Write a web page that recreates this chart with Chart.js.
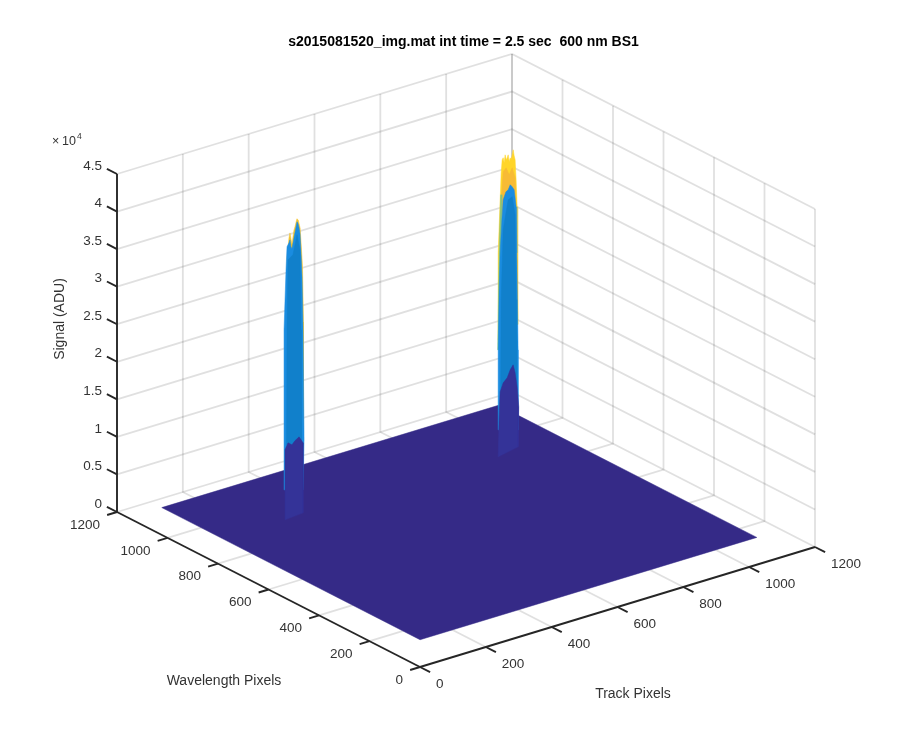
<!DOCTYPE html>
<html>
<head>
<meta charset="utf-8">
<title>s2015081520_img.mat</title>
<script src="https://cdn.jsdelivr.net/npm/chart.js@4"></script>
<style>html,body{margin:0;padding:0;background:#fff}canvas{display:block}</style>
</head>
<body>
<canvas id="c" width="900" height="750"></canvas>
<script>
// ---- axis ticks ----
const trackTicks = [0, 200, 400, 600, 800, 1000, 1200];
const waveTicks = [0, 200, 400, 600, 800, 1000, 1200];
const signalTicks = [0, 5000, 10000, 15000, 20000, 25000, 30000, 35000, 40000, 45000];
const signalLabels = ['0', '0.5', '1', '1.5', '2', '2.5', '3', '3.5', '4', '4.5'];

// ---- floor of the surface (sensor 1024 x 1024 at the bias level) ----
const floorTrack = [1, 1024, 1024, 1];
const floorWave = [1, 1, 1024, 1024];
const floorSignal = [3600, 3600, 3600, 3600];

// ---- left spot, wavelength row ~790 ----
const peakWave = 790;
const leftYellowTrack = [202, 208, 211, 217, 223, 226, 232, 236, 242, 249, 252, 252, 202];
const leftYellowSignal = [38000, 40800, 41400, 39800, 41600, 42000, 43000, 42800, 41600, 36500, 29000, 14000, 14000];
const leftBlueTrack = [193, 193, 199, 202, 208, 211, 214, 217, 223, 226, 229.5, 232.5, 235.6, 238.6, 241.6, 244.7, 247.7, 250.7, 253.8, 250.7];
const leftBlueSignal = [7430, 28730, 36640, 39670, 40120, 40480, 39500, 39200, 40590, 41210, 41970, 42600, 42280, 41700, 40870, 38030, 35060, 27960, 13280, 6660];
const leftCoreTrack = [200.6, 202, 205, 220, 232.5, 241.6, 244.7, 246];
const leftCoreSignal = [13320, 28620, 37900, 38360, 40870, 38730, 28040, 12720];
const leftDarkTrack = [196, 196, 205, 217, 226, 238.6, 244.7, 250.7, 250.7];
const leftDarkSignal = [3400, 12720, 13530, 13100, 13520, 13880, 13400, 12920, 3600];

// ---- right spot, same wavelength row ----
const rightYellowTrack = [843.5, 843.5, 852.6, 855.6, 858.7, 861.7, 864.7, 867.8, 870.8, 873.9, 876.9, 880, 883, 886, 889, 892, 895, 898, 901.2, 903, 903];
const rightYellowSignal = [18740, 30330, 40860, 42550, 42780, 42070, 43090, 42380, 42610, 42970, 42000, 42490, 42180, 42810, 43440, 42600, 42020, 39320, 35690, 28590, 20000];
const rightOrangeTrack = [852.6, 858.7, 867.8, 876.9, 886, 895, 898, 901.2, 901.2, 852.6];
const rightOrangeSignal = [37260, 40910, 41320, 40270, 41080, 39630, 35990, 28630, 23300, 23950];
const rightGreenTrack = [842, 846.5, 851, 855.6, 849.5];
const rightGreenSignal = [17430, 30690, 37950, 37880, 17330];
const rightBlueTrack = [843.5, 843.5, 846.5, 849.5, 854.7, 858.7, 867, 873.9, 880, 886, 892, 898, 900, 904, 904];
const rightBlueSignal = [6760, 17410, 25360, 30250, 34570, 37180, 38130, 38310, 38900, 38550, 38070, 35730, 29570, 16600, 5950];
const rightCoreTrack = [851, 852.6, 858.7, 873.9, 886, 895, 898, 900];
const rightCoreSignal = [11320, 23950, 33180, 36980, 37220, 34700, 23340, 10670];
const rightDarkTrack = [843.5, 846.5, 849.5, 858.7, 870.8, 880, 889, 895, 901, 906, 904];
const rightDarkSignal = [3160, 8450, 11740, 12810, 13320, 14260, 14810, 13660, 11720, 8990, 3690];

// ---- text ----
const titleText = 's2015081520_img.mat int time = 2.5 sec  600 nm BS1';
const trackName = 'Track Pixels';
const waveName = 'Wavelength Pixels';
const signalName = 'Signal (ADU)';

// ---- view of the 3-D box: page position of the origin and of each axis' far end ----
const ORIGIN = {x: 420, y: 667};
const TRACK_SPAN = {dx: 395, dy: -120, max: 1200};
const WAVE_SPAN = {dx: -303, dy: -155, max: 1200};
const SIGNAL_SPAN = {dy: -338, max: 45000};
function project(t, w, z) {
  return {
    x: ORIGIN.x + t / TRACK_SPAN.max * TRACK_SPAN.dx + w / WAVE_SPAN.max * WAVE_SPAN.dx,
    y: ORIGIN.y + t / TRACK_SPAN.max * TRACK_SPAN.dy + w / WAVE_SPAN.max * WAVE_SPAN.dy + z / SIGNAL_SPAN.max * SIGNAL_SPAN.dy
  };
}

const GRID = 'rgba(38,38,38,0.14)';
const AXIS = '#262626';
const TEXT = '#333333';
const datasets = [];
function line(pts, color, width) {
  datasets.push({data: pts, showLine: true, borderColor: color, borderWidth: width, pointRadius: 0, fill: false, clip: false, tension: 0});
}
function poly(pts, color) {
  datasets.push({data: pts, showLine: true, borderColor: color, borderWidth: 0.5, backgroundColor: color, pointRadius: 0, fill: 'shape', clip: false, tension: 0});
}
function layer(tracks, signals, color) {
  const pts = tracks.map((t, i) => project(t, peakWave, signals[i]));
  pts.push(pts[0]);
  poly(pts, color);
}

const TMAX = TRACK_SPAN.max, WMAX = WAVE_SPAN.max, ZMAX = SIGNAL_SPAN.max;
const GW = 1.8;
// grid
trackTicks.forEach(t => {
  if (t > 0) line([project(t, 0, 0), project(t, WMAX, 0), project(t, WMAX, ZMAX)], GRID, GW);
});
waveTicks.forEach(w => {
  if (w > 0) line([project(0, w, 0), project(TMAX, w, 0), project(TMAX, w, ZMAX)], GRID, GW);
});
line([project(TMAX, 0, 0), project(TMAX, 0, ZMAX)], GRID, GW);
signalTicks.forEach(z => {
  if (z > 0) line([project(0, WMAX, z), project(TMAX, WMAX, z), project(TMAX, 0, z)], GRID, GW);
});
// surface floor
const floorPts = floorTrack.map((t, i) => project(t, floorWave[i], floorSignal[i]));
floorPts.push(floorPts[0]);
poly(floorPts, '#352a87');
// spots
layer(leftYellowTrack, leftYellowSignal, '#f2c32e');
layer(leftBlueTrack, leftBlueSignal, '#1a8ce0');
layer(leftCoreTrack, leftCoreSignal, '#1180cb');
layer(leftDarkTrack, leftDarkSignal, '#343398');
layer(rightYellowTrack, rightYellowSignal, '#ffd52a');
layer(rightOrangeTrack, rightOrangeSignal, '#f7bb35');
layer(rightGreenTrack, rightGreenSignal, '#86c27e');
layer(rightBlueTrack, rightBlueSignal, '#1a8ce0');
layer(rightCoreTrack, rightCoreSignal, '#1180cb');
layer(rightDarkTrack, rightDarkSignal, '#343398');
// axes
const AW = 1.9;
line([project(0, WMAX, 0), project(0, WMAX, ZMAX)], AXIS, AW);
line([project(0, WMAX, 0), project(0, 0, 0)], AXIS, AW);
line([project(0, 0, 0), project(TMAX, 0, 0)], AXIS, AW);
signalTicks.forEach(z => line([project(0, WMAX, z), project(0, WMAX + 40, z)], AXIS, AW));
waveTicks.forEach(w => line([project(0, w, 0), project(-30, w, 0)], AXIS, AW));
trackTicks.forEach(t => line([project(t, 0, 0), project(t, -40, 0)], AXIS, AW));
// first drawn stays at the back
datasets.forEach((d, i) => { d.order = datasets.length - i; });

const FONT = '"Liberation Sans", Arial, sans-serif';
const TITLE_SIZE = 14, TITLE_PAD = 33.6, PAD_LEFT = 27;
const TOP = TITLE_PAD + TITLE_SIZE * 1.2;

const axisText = {
  id: 'axisText',
  afterDraw(chart) {
    const c = chart.ctx, sx = chart.scales.x, sy = chart.scales.y;
    const px = p => ({x: sx.getPixelForValue(p.x), y: sy.getPixelForValue(p.y)});
    c.save();
    c.fillStyle = TEXT;
    c.textBaseline = 'middle';
    c.font = '13.5px ' + FONT;
    c.textAlign = 'right';
    signalTicks.forEach((z, i) => { const p = px(project(0, WMAX, z)); c.fillText(signalLabels[i], p.x - 15, p.y - 8); });
    waveTicks.forEach(w => { const p = px(project(0, w, 0)); c.fillText(String(w), p.x - 17, p.y + 13); });
    c.textAlign = 'left';
    trackTicks.forEach(t => { const p = px(project(t, 0, 0)); c.fillText(String(t), p.x + 16, p.y + 17); });
    c.textAlign = 'center';
    c.font = '14px ' + FONT;
    c.fillText(waveName, 224, 681);
    c.fillText(trackName, 633, 694);
    c.save();
    c.translate(60, 319);
    c.rotate(-Math.PI / 2);
    c.fillText(signalName, 0, 0);
    c.restore();
    c.textAlign = 'left';
    c.font = '12.5px ' + FONT;
    c.fillText('\u00d7', 52, 142);
    c.fillText('10', 62, 142);
    c.font = '8.5px ' + FONT;
    c.fillText('4', 77, 137);
    c.restore();
  }
};

new Chart(document.getElementById('c'), {
  type: 'scatter',
  data: {datasets},
  plugins: [axisText],
  options: {
    responsive: false,
    animation: false,
    events: [],
    layout: {padding: {left: PAD_LEFT, right: 0, top: 0, bottom: 0}},
    plugins: {
      legend: {display: false},
      tooltip: {enabled: false},
      title: {display: true, text: titleText, color: '#000', font: {family: FONT, size: TITLE_SIZE, weight: 'bold'}, padding: {top: TITLE_PAD, bottom: 0}}
    },
    scales: {
      x: {type: 'linear', display: false, min: PAD_LEFT, max: 900},
      y: {type: 'linear', display: false, min: TOP, max: 750, reverse: true}
    }
  }
});
</script>
</body>
</html>
